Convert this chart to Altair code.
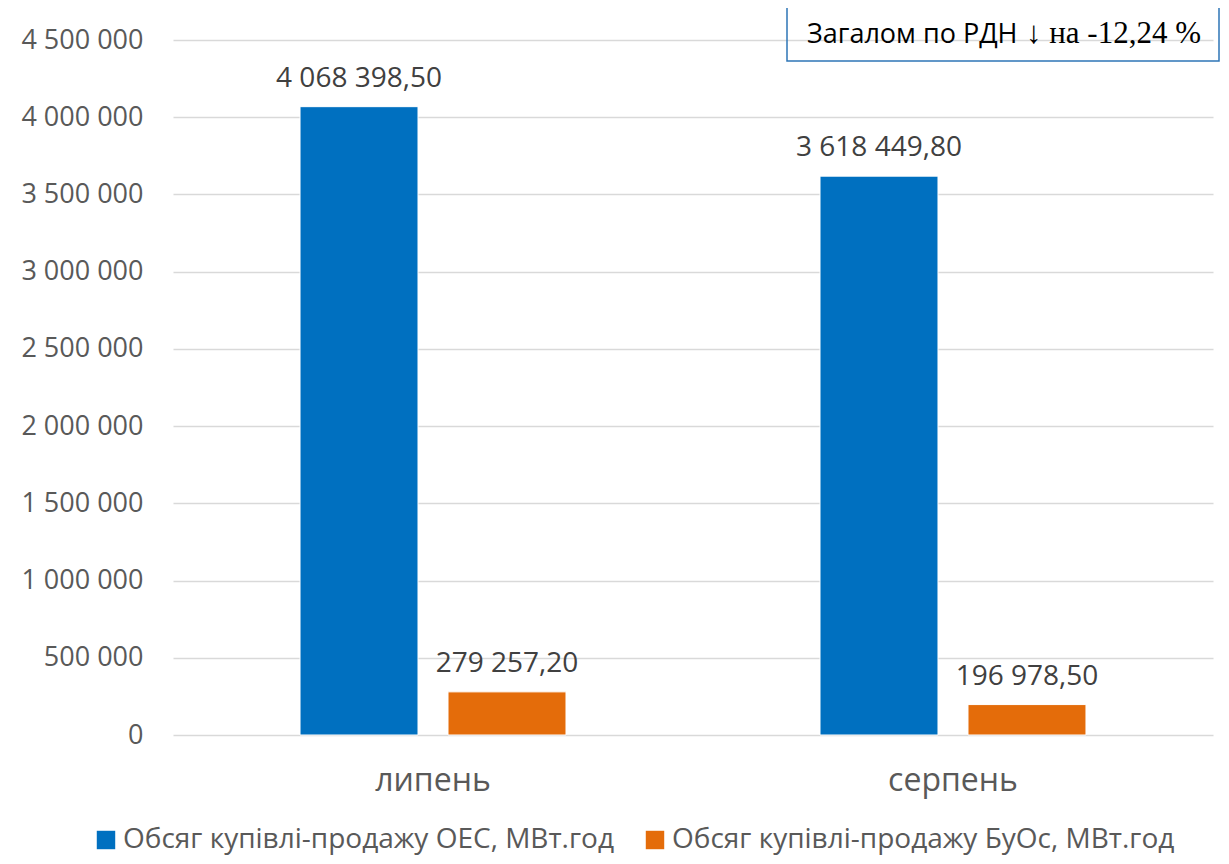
import altair as alt
import pandas as pd

months = ["липень", "серпень"]
series = ["Обсяг купівлі-продажу ОЕС, МВт.год", "Обсяг купівлі-продажу БуОс, МВт.год"]
oes = [4068398.50, 3618449.80]
buos = [279257.20, 196978.50]
colors = ["#0070C0", "#E46C0A"]
note_sans = "Загалом по РДН"
note_serif = "↓ на -12,24 %"


def fmt(v):
    s = f"{v:,.2f}"
    return s.replace(",", " ").replace(".", ",")


rows = []
for i, m in enumerate(months):
    rows.append({"month": m, "series": series[0], "value": oes[i], "label": fmt(oes[i])})
    rows.append({"month": m, "series": series[1], "value": buos[i], "label": fmt(buos[i])})
df = pd.DataFrame(rows)

FONT = "Open Sans"

x = alt.X("month:N", sort=months, title=None,
          scale=alt.Scale(paddingInner=0.4885, paddingOuter=0.2443),
          axis=alt.Axis(labelAngle=0, labelFontSize=32, labelColor="#595959", labelFont=FONT,
                        ticks=False, domain=False, labelPadding=30))
xo = alt.XOffset("series:N", sort=series,
                 scale=alt.Scale(paddingInner=0.2027, paddingOuter=0))
y = alt.Y("value:Q", title=None,
          scale=alt.Scale(domain=[0, 4500000], nice=False),
          axis=alt.Axis(values=list(range(0, 4500001, 500000)),
                        labelExpr="replace(format(datum.value, ','), /,/g, ' ')",
                        labelFontSize=27, labelColor="#595959", labelFont=FONT,
                        ticks=False, domain=False, labelPadding=30,
                        gridColor="#D9D9D9", gridWidth=1.5))
color = alt.Color("series:N", sort=series, title=None,
                  scale=alt.Scale(domain=series, range=colors),
                  legend=alt.Legend(orient="none", legendX=-81, legendY=786, direction="horizontal",
                                    symbolType="square", symbolSize=340, symbolStrokeWidth=0,
                                    labelFontSize=28, labelColor="#595959", labelFont=FONT,
                                    labelOffset=3, columnPadding=27, labelLimit=800))

bars = alt.Chart(df).mark_bar(stroke="white", strokeWidth=1).encode(x=x, xOffset=xo, y=y, color=color)
labels = alt.Chart(df).mark_text(baseline="bottom", dy=-14, fontSize=28, font=FONT, color="#404040").encode(
    x=x, xOffset=xo, y=y, text="label:N")

note_df = pd.DataFrame({"a": [note_sans], "b": [note_serif]})
box = alt.Chart(note_df).mark_rect(fill=None, stroke="#2E75B6", strokeWidth=1.5).encode(
    x=alt.value(614), x2=alt.value(1046), y=alt.value(-36), y2=alt.value(21))
t1 = alt.Chart(note_df).mark_text(align="left", baseline="alphabetic", fontSize=27, font=FONT,
                                  color="#000000").encode(
    x=alt.value(634), y=alt.value(3), text="a:N")
t2 = alt.Chart(note_df).mark_text(align="left", baseline="alphabetic", fontSize=31,
                                  font="Liberation Serif", color="#000000").encode(
    x=alt.value(853), y=alt.value(3), text="b:N")

chart = alt.layer(bars, labels, box, t1, t2).properties(
    width=1040, height=695,
    autosize=alt.AutoSizeParams(type="none"),
    padding={"left": 165, "top": 32, "right": 8, "bottom": 121},
).configure_view(stroke=None)

chart.save("out.html", embed_options={"renderer": "svg", "actions": False})
